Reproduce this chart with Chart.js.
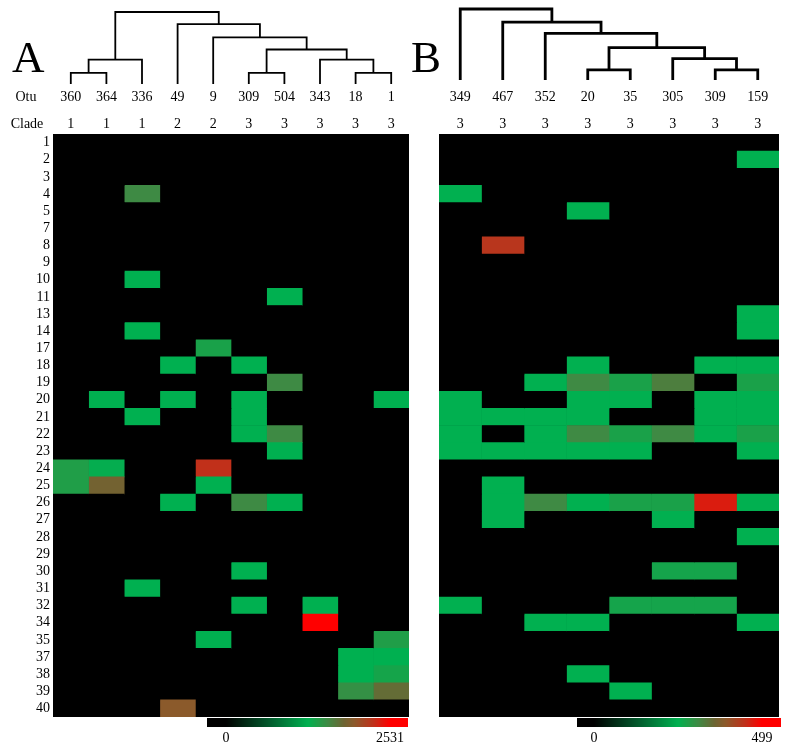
<!DOCTYPE html>
<html>
<head>
<meta charset="utf-8">
<script src="https://cdn.jsdelivr.net/npm/chart.js@4.4.1/dist/chart.umd.min.js"></script>
<style>
  html, body { margin: 0; padding: 0; background: #fff; }
  #wrap { position: relative; width: 788px; height: 751px; overflow: hidden; font-family: "Liberation Serif", "DejaVu Serif", serif; }
  #wrap canvas { position: absolute; }
  .panel { position: absolute; font-size: 45px; line-height: 45px; color: #000; }
</style>
</head>
<body>
<div id="wrap">
  <canvas id="heatA" width="420" height="751" style="left:0;top:0"></canvas>
  <canvas id="heatB" width="368" height="751" style="left:420px;top:0"></canvas>
  <canvas id="treeA" width="356" height="88" style="left:53px;top:0"></canvas>
  <canvas id="treeB" width="340" height="84" style="left:439px;top:0"></canvas>
  <canvas id="barA" width="201" height="33" style="left:207px;top:718px"></canvas>
  <canvas id="barB" width="204" height="33" style="left:577px;top:718px"></canvas>
  <div class="panel" style="left:12px;top:35px">A</div>
  <div class="panel" style="left:411px;top:35px">B</div>
</div>
<script>
// =================== DATA ===================
const rowLabels = ["1","2","3","4","5","7","8","9","10","11","13","14","17","18","19","20","21","22","23",
  "24","25","26","27","28","29","30","31","32","34","35","37","38","39","40"];

const otuA = ["360","364","336","49","9","309","504","343","18","1"];
const cladeA = ["1","1","1","2","2","3","3","3","3","3"];
const maxA = 2531;
// one row per label above, one column per Otu
const valuesA = [
  [0,0,0,0,0,0,0,0,0,0],
  [0,0,0,0,0,0,0,0,0,0],
  [0,0,0,0,0,0,0,0,0,0],
  [0,0,1570,0,0,0,0,0,0,0],
  [0,0,0,0,0,0,0,0,0,0],
  [0,0,0,0,0,0,0,0,0,0],
  [0,0,0,0,0,0,0,0,0,0],
  [0,0,0,0,0,0,0,0,0,0],
  [0,0,1265,0,0,0,0,0,0,0],
  [0,0,0,0,0,0,1265,0,0,0],
  [0,0,0,0,0,0,0,0,0,0],
  [0,0,1265,0,0,0,0,0,0,0],
  [0,0,0,0,1390,0,0,0,0,0],
  [0,0,0,1265,0,1265,0,0,0,0],
  [0,0,0,0,0,0,1570,0,0,0],
  [0,1265,0,1265,0,1265,0,0,0,1265],
  [0,0,1265,0,0,1265,0,0,0,0],
  [0,0,0,0,0,1265,1570,0,0,0],
  [0,0,0,0,0,0,1265,0,0,0],
  [1420,1290,0,0,2280,0,0,0,0,0],
  [1420,1850,0,0,1265,0,0,0,0,0],
  [0,0,0,1265,0,1570,1265,0,0,0],
  [0,0,0,0,0,0,0,0,0,0],
  [0,0,0,0,0,0,0,0,0,0],
  [0,0,0,0,0,0,0,0,0,0],
  [0,0,0,0,0,1265,0,0,0,0],
  [0,0,1265,0,0,0,0,0,0,0],
  [0,0,0,0,0,1265,0,1265,0,0],
  [0,0,0,0,0,0,0,2531,0,0],
  [0,0,0,0,1265,0,0,0,0,1420],
  [0,0,0,0,0,0,0,0,1265,1265],
  [0,0,0,0,0,0,0,0,1265,1370],
  [0,0,0,0,0,0,0,0,1520,1770],
  [0,0,0,1975,0,0,0,0,0,0]
];
// dendrogram merges: [left, right, height]; ids >= leaf count refer to earlier merges
const mergesA = [
  [0, 1, 11], [10, 2, 24], [5, 6, 11], [8, 9, 11], [7, 13, 24],
  [12, 14, 34], [4, 15, 46], [3, 16, 59], [11, 17, 71]
];

const otuB = ["349","467","352","20","35","305","309","159"];
const cladeB = ["3","3","3","3","3","3","3","3"];
const maxB = 499;
const valuesB = [
  [0,0,0,0,0,0,0,0],
  [0,0,0,0,0,0,0,250],
  [0,0,0,0,0,0,0,0],
  [250,0,0,0,0,0,0,0],
  [0,0,0,250,0,0,0,0],
  [0,0,0,0,0,0,0,0],
  [0,440,0,0,0,0,0,0],
  [0,0,0,0,0,0,0,0],
  [0,0,0,0,0,0,0,0],
  [0,0,0,0,0,0,0,0],
  [0,0,0,0,0,0,0,250],
  [0,0,0,0,0,0,0,250],
  [0,0,0,0,0,0,0,0],
  [0,0,0,250,0,0,250,250],
  [0,0,250,310,275,325,0,275],
  [250,0,0,250,250,0,250,250],
  [250,250,250,250,0,0,250,250],
  [250,0,250,310,275,310,250,275],
  [250,250,250,250,250,0,0,250],
  [0,0,0,0,0,0,0,0],
  [0,250,0,0,0,0,0,0],
  [0,250,310,250,275,275,470,250],
  [0,250,0,0,0,250,0,0],
  [0,0,0,0,0,0,0,250],
  [0,0,0,0,0,0,0,0],
  [0,0,0,0,0,270,270,0],
  [0,0,0,0,0,0,0,0],
  [250,0,0,0,270,270,270,0],
  [0,0,250,250,0,0,0,250],
  [0,0,0,0,0,0,0,0],
  [0,0,0,0,0,0,0,0],
  [0,0,0,250,0,0,0,0],
  [0,0,0,0,250,0,0,0],
  [0,0,0,0,0,0,0,0]
];
const mergesB = [
  [3, 4, 10], [6, 7, 10], [5, 9, 21], [8, 10, 32], [2, 11, 46], [1, 12, 57], [0, 13, 70]
];

// black -> green -> red colour scale (fraction of max)
const colorStops = [
  [0, "#000000"], [0.25, "#02552a"], [0.5, "#00b050"], [0.56, "#1f9e48"],
  [0.62, "#3e8a44"], [0.72, "#6e6432"], [0.78, "#8b5a2b"], [0.9, "#c0301a"], [1, "#ff0000"]
];

// =================== HELPERS ===================
function hexToRgb(h) {
  return [parseInt(h.slice(1, 3), 16), parseInt(h.slice(3, 5), 16), parseInt(h.slice(5, 7), 16)];
}
function colorFor(v, max) {
  const t = Math.max(0, Math.min(1, v / max));
  for (let i = 1; i < colorStops.length; i++) {
    const [t1, c1] = colorStops[i];
    const [t0, c0] = colorStops[i - 1];
    if (t <= t1) {
      const f = (t - t0) / (t1 - t0);
      const a = hexToRgb(c0), b = hexToRgb(c1);
      return "rgb(" + a.map((x, k) => Math.round(x + (b[k] - x) * f)).join(",") + ")";
    }
  }
  return colorStops[colorStops.length - 1][1];
}

const FONT = '"Liberation Serif", "DejaVu Serif", serif';

// =================== HEATMAPS ===================
const topLabels = {
  id: "topLabels",
  beforeDatasetsDraw(chart) {
    // black backdrop so the cell seams don't show white
    const { ctx, chartArea: a } = chart;
    ctx.save();
    ctx.fillStyle = "#000";
    ctx.fillRect(a.left, a.top, a.width, a.height);
    ctx.restore();
  },
  afterDraw(chart, args, opts) {
    const { ctx, chartArea, scales } = chart;
    ctx.save();
    ctx.font = "14px " + FONT;
    ctx.fillStyle = "#000";
    ctx.textAlign = "center";
    ctx.textBaseline = "middle";
    opts.otu.forEach((o, i) => {
      const x = scales.x.getPixelForValue(i + 0.5);
      ctx.fillText(o, x, chartArea.top - 37);
      ctx.fillText(opts.clade[i], x, chartArea.top - 10);
    });
    if (opts.names) {
      ctx.fillText("Otu", 26, chartArea.top - 37);
      ctx.fillText("Clade", 27, chartArea.top - 10);
    }
    ctx.restore();
  }
};

function makeHeatmap(id, otu, clade, values, max, showRows, padLeft, padRight) {
  const datasets = otu.map((o, c) => ({
    label: o,
    data: rowLabels.map(() => [c, c + 1]),
    backgroundColor: values.map(row => colorFor(row[c], max)),
    borderWidth: 0,
    barPercentage: 1,
    categoryPercentage: 1,
    grouped: false
  }));
  return new Chart(document.getElementById(id), {
    type: "bar",
    data: { labels: rowLabels, datasets },
    options: {
      indexAxis: "y",
      responsive: false,
      animation: false,
      layout: { padding: { top: 134, bottom: 34, left: padLeft, right: padRight } },
      plugins: {
        legend: { display: false },
        tooltip: { enabled: false },
        topLabels: { otu, clade, names: showRows }
      },
      scales: {
        x: { type: "linear", min: 0, max: otu.length, display: false },
        y: {
          type: "category",
          display: showRows,
          grid: { display: false, drawTicks: false },
          border: { display: false },
          ticks: { color: "#000", font: { family: FONT, size: 14 }, padding: 3, autoSkip: false },
          afterFit: axis => { axis.width = showRows ? 53 : 0; }
        }
      }
    },
    plugins: [topLabels]
  });
}

makeHeatmap("heatA", otuA, cladeA, valuesA, maxA, true, 0, 11);
makeHeatmap("heatB", otuB, cladeB, valuesB, maxB, false, 19, 9);

// =================== DENDROGRAMS ===================
function makeTree(id, nLeaves, merges, lineWidth, padTop) {
  const pos = [];
  for (let i = 0; i < nLeaves; i++) pos.push({ x: i + 0.5, h: 0 });
  const datasets = merges.map(([l, r, h]) => {
    const a = pos[l], b = pos[r];
    pos.push({ x: (a.x + b.x) / 2, h });
    return {
      data: [{ x: a.x, y: a.h }, { x: a.x, y: h }, { x: b.x, y: h }, { x: b.x, y: b.h }],
      showLine: true,
      borderColor: "#000",
      borderWidth: lineWidth,
      pointRadius: 0,
      clip: false
    };
  });
  const top = merges[merges.length - 1][2];
  return new Chart(document.getElementById(id), {
    type: "scatter",
    data: { datasets },
    options: {
      responsive: false,
      animation: false,
      layout: { padding: { top: padTop, bottom: 4, left: 0, right: 0 } },
      plugins: { legend: { display: false }, tooltip: { enabled: false } },
      scales: {
        x: { type: "linear", min: 0, max: nLeaves, display: false },
        y: { type: "linear", min: 0, max: top, display: false }
      }
    }
  });
}

makeTree("treeA", otuA.length, mergesA, 1.8, 12);
makeTree("treeB", otuB.length, mergesB, 2.8, 9);

// =================== COLOUR BARS ===================
const gradientFill = {
  id: "gradientFill",
  beforeDatasetsDraw(chart, args, opts) {
    const { ctx, chartArea: a, scales: { x } } = chart;
    const g = ctx.createLinearGradient(a.left, 0, a.right, 0);
    colorStops.forEach(([t, c]) => {
      const p = (x.getPixelForValue(t * opts.max) - a.left) / (a.right - a.left);
      g.addColorStop(Math.max(0, Math.min(1, p)), c);
    });
    ctx.save();
    ctx.fillStyle = g;
    ctx.fillRect(a.left, a.top, a.width, a.height);
    ctx.restore();
  }
};

function makeColorBar(id, max, zeroPx, maxPx, width) {
  const unit = max / (maxPx - zeroPx);
  return new Chart(document.getElementById(id), {
    type: "scatter",
    data: { datasets: [{ data: [] }] },
    options: {
      responsive: false,
      animation: false,
      layout: { padding: 0 },
      plugins: { legend: { display: false }, tooltip: { enabled: false }, gradientFill: { max } },
      scales: {
        x: {
          type: "linear",
          min: -zeroPx * unit,
          max: max + (width - maxPx) * unit,
          grid: { display: false, drawTicks: false },
          border: { display: false },
          ticks: { color: "#000", font: { family: FONT, size: 14 }, padding: 3, callback: v => String(v) },
          afterBuildTicks: axis => { axis.ticks = [{ value: 0 }, { value: max }]; },
          afterFit: axis => { axis.height = 24; }
        },
        y: { display: false, min: 0, max: 1 }
      }
    },
    plugins: [gradientFill]
  });
}

makeColorBar("barA", maxA, 19, 183, 201);
makeColorBar("barB", maxB, 17, 185, 204);
</script>
</body>
</html>
